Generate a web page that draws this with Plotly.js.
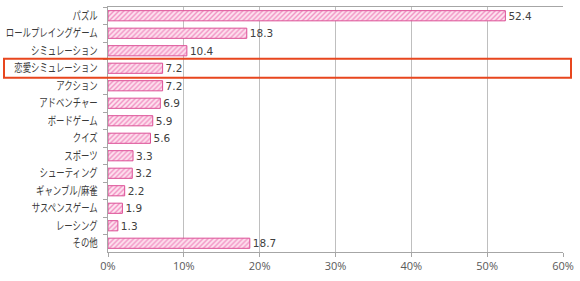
<!DOCTYPE html>
<html><head><meta charset="utf-8">
<script src="https://cdn.plot.ly/plotly-3.0.1.min.js"></script>
<style>html,body{margin:0;padding:0;background:#fff}#c{width:580px;height:281px}</style>
</head><body><div id="c"></div>
<script>
const categories = ["パズル","ロールプレイングゲーム","シミュレーション","恋愛シミュレーション","アクション","アドベンチャー","ボードゲーム","クイズ","スポーツ","シューティング","ギャンブル/麻雀","サスペンスゲーム","レーシング","その他"];
const values = [52.4,18.3,10.4,7.2,7.2,6.9,5.9,5.6,3.3,3.2,2.2,1.9,1.3,18.7];
const tickVals = [0,10,20,30,40,50,60];
const tickText = ["0%","10%","20%","30%","40%","50%","60%"];
const highlightIndex = 3;

const font = "Noto Sans CJK JP, Noto Sans, sans-serif";
const trace = {
  type: "bar", orientation: "h",
  y: categories, x: values,
  text: values.map(v => v.toFixed(1)),
  textposition: "outside",
  constraintext: "none",
  textfont: {family: "DejaVu Sans, sans-serif", size: 10.5, color: "#404040"},
  cliponaxis: false,
  marker: {
    color: "#fde0ee",
    line: {color: "#dc4f96", width: 1},
    pattern: {shape: "/", fgcolor: "#f292c4", bgcolor: "#fde3ef", size: 3.5, solidity: 0.4}
  },
  hoverinfo: "none"
};
const layout = {
  width: 580, height: 281,
  margin: {l: 108, r: 17, t: 7, b: 29},
  paper_bgcolor: "#fff", plot_bgcolor: "#fff",
  showlegend: false,
  bargap: 0.42,
  font: {family: font, color: "#404040", size: 11},
  xaxis: {
    range: [0, 60], tickvals: tickVals, ticktext: tickText,
    showgrid: true, gridcolor: "#bfbfbf", gridwidth: 1,
    showline: true, linecolor: "#a6a6a6", linewidth: 1, mirror: true,
    ticks: "outside", ticklen: 4, tickcolor: "#a6a6a6",
    tickfont: {family: "Open Sans, Noto Sans, sans-serif", size: 11, color: "#595959"},
    zeroline: false, fixedrange: true
  },
  yaxis: {
    autorange: "reversed", type: "category",
    showline: true, linecolor: "#a6a6a6", linewidth: 1,
    ticks: "outside", ticklen: 4, tickcolor: "#a6a6a6", tickson: "boundaries",
    ticklabelstandoff: 7,
    tickfont: {family: font, size: 11.5, color: "#3a3a3a"},
    showgrid: false, zeroline: false, fixedrange: true
  },
  shapes: [{
    type: "rect", xref: "paper", yref: "y",
    x0: (4 - 108) / 455, x1: (571 - 108) / 455,
    y0: highlightIndex - 0.54, y1: highlightIndex + 0.54,
    line: {color: "#e8461e", width: 2}, fillcolor: "rgba(0,0,0,0)", layer: "above"
  }]
};
Plotly.newPlot("c", [trace], layout, {displayModeBar: false, staticPlot: true}).then(function (gd) {
  // narrow the Japanese tick labels horizontally, anchored at their right edge
  gd.querySelectorAll(".ytick text").forEach(function (t) {
    const x = parseFloat(t.getAttribute("x")) || 0;
    const y = parseFloat(t.getAttribute("y")) || 0;
    const tr = t.getAttribute("transform") || "";
    t.setAttribute("transform", tr + " translate(" + x + "," + y + ") scale(0.73,1) translate(" + (-x) + "," + (-y) + ")");
  });
});
</script></body></html>
